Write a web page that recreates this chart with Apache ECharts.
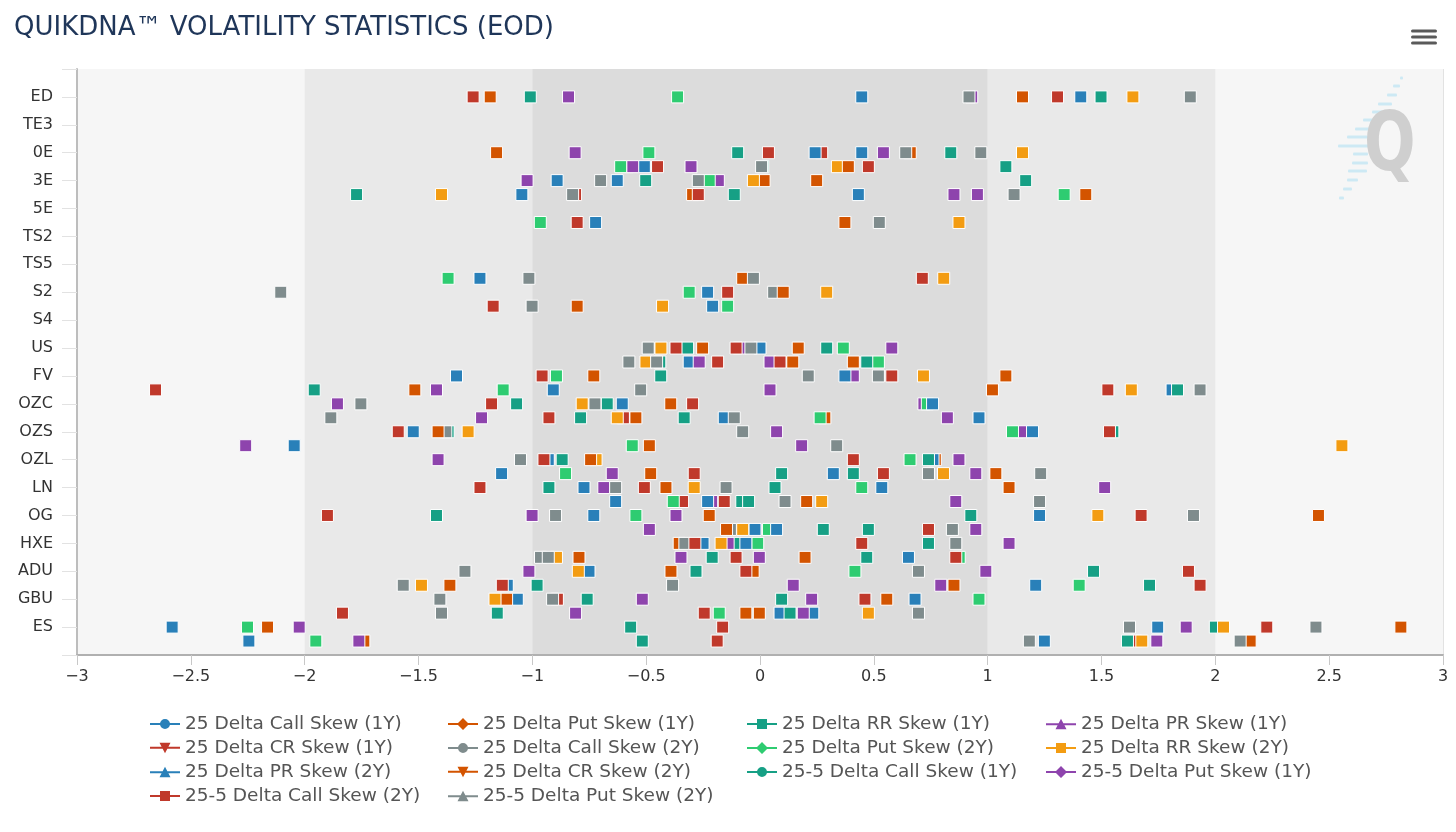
<!DOCTYPE html>
<html><head><meta charset="utf-8">
<script src="https://cdn.jsdelivr.net/npm/echarts@6/dist/echarts.min.js"></script>
<style>html,body{margin:0;padding:0;background:#fff}#c{width:1456px;height:832px}</style>
</head><body><div id="c"></div>
<script>
// ---------- data ----------
const rowLabels = ['ED','TE3','0E','3E','5E','TS2','TS5','S2','S4','US','FV','OZC','OZS','OZL','LN','OG','HXE','ADU','GBU','ES'];
const slots = [0,2,2.5,3,3.5,4.5,6.5,7,7.5,9,9.5,10,10.5,11,11.5,12,12.5,13,13.5,14,14.5,15,15.5,16,16.5,17,17.5,18,18.5,19,19.5];
const xTicks = [-3,-2.5,-2,-1.5,-1,-0.5,0,0.5,1,1.5,2,2.5,3];

const seriesNames = [
  '25 Delta Call Skew (1Y)','25 Delta Put Skew (1Y)','25 Delta RR Skew (1Y)','25 Delta PR Skew (1Y)',
  '25 Delta CR Skew (1Y)','25 Delta Call Skew (2Y)','25 Delta Put Skew (2Y)','25 Delta RR Skew (2Y)',
  '25 Delta PR Skew (2Y)','25 Delta CR Skew (2Y)','25-5 Delta Call Skew (1Y)','25-5 Delta Put Skew (1Y)',
  '25-5 Delta Call Skew (2Y)','25-5 Delta Put Skew (2Y)'
];
const callSkew1Y = [0.447,0.447,-0.508,-0.891,-1.046,-0.722,-1.230,-0.230,-0.208,0.0,-0.311,-1.333,-0.908,-0.605,-0.157,-1.523,-2.046,-0.93,-1.135,-0.773,-0.634,-0.730,-0.022,-0.25,0.652,-0.751,-1.11,-1.066,0.088,-2.582,-2.245];
const putSkew1Y = [-1.185,0.66,-0.585,0.018,-0.296,0.373,-0.076,null,-0.803,-0.252,0.144,-0.730,-1.516,-0.392,0.285,1.13,-0.486,0.77,-0.480,-0.413,0.205,-0.223,null,-0.355,-0.795,-0.03,-1.362,-1.113,-0.062,-2.163,-1.74];
const rrSkew1Y = [-1.009,-0.098,0.012,-0.502,-1.772,null,null,null,null,-0.318,-0.44,-0.436,-1.958,-1.069,-0.788,-1.37,null,-0.869,0.095,-0.927,-0.08,-1.421,0.278,-0.11,-0.210,-0.281,-0.979,-0.759,-1.154,2.0,-0.517];
const prSkew1Y = [0.93,-0.812,-0.559,-0.183,0.852,null,null,null,null,-0.09,-0.267,0.410,-1.421,0.72,-1.223,1.15,-2.259,-1.414,-0.649,-0.686,-0.212,-1.001,-0.486,-0.14,-0.347,-1.015,0.146,-0.517,-0.810,-2.024,-1.762];
const crSkew1Y = [-1.260,0.271,-0.450,null,-0.81,-0.803,0.713,-0.142,-1.172,-0.369,-0.186,-0.957,-2.655,-1.179,-0.60,-1.589,null,-0.949,-0.289,-1.230,-0.340,-1.900,0.740,0.447,-0.105,-0.062,-1.132,-0.89,-1.834,-0.164,1.65];
const callSkew2Y = [0.918,0.640,0.007,-0.700,-0.823,0.524,-1.015,0.06,-1.001,-0.491,-0.576,0.212,-0.524,-1.753,-1.885,-1.38,0.337,-1.052,0.740,-0.634,0.110,-0.898,-0.13,-0.33,-0.964,-1.296,-1.567,-1.406,-1.399,1.623,1.183];
const putSkew2Y = [-0.362,-0.488,-0.612,-0.223,1.336,-0.965,-1.370,-0.311,-0.142,0.366,0.520,-0.894,-1.128,0.735,0.264,1.109,-0.561,0.659,-0.854,0.447,-0.381,-0.545,0.037,-0.010,0.875,0.417,1.402,0.962,-0.179,-2.251,-1.951];
const rrSkew2Y = [1.638,1.153,0.340,-0.029,-1.399,0.874,0.807,0.293,-0.428,-0.435,-0.501,0.718,1.631,-0.781,-0.627,-1.282,2.556,-0.72,0.806,-0.289,0.271,1.484,-0.076,-0.171,-0.894,-0.798,-1.487,-1.164,0.476,2.036,1.677];
const prSkew2Y = [1.409,0.242,null,-0.627,0.432,null,null,null,null,null,null,0.373,1.81,0.758,0.962,1.197,null,0.76,0.322,0.535,-0.23,1.228,0.073,-0.062,null,null,1.211,0.681,0.232,1.747,1.249];
const crSkew2Y = [1.153,-1.157,0.388,0.249,1.431,null,null,0.102,null,0.168,0.410,1.080,1.021,null,-0.545,-1.414,null,-0.744,1.036,1.094,null,2.453,-0.147,null,0.198,-0.391,0.852,0.557,-0.003,2.815,2.153];
const callSkew255_1Y = [1.498,0.838,1.080,1.167,-0.113,null,null,null,null,0.293,0.469,null,1.834,-0.671,-0.333,1.55,null,0.740,0.410,0.066,-0.05,0.926,0.476,0.740,0.469,1.465,1.711,0.095,0.132,-0.568,1.614];
const putSkew255_1Y = [-0.841,0.542,-0.303,-1.023,0.955,null,null,null,null,0.579,0.044,null,0.044,-1.856,0.823,0.073,0.183,0.874,0.948,1.514,0.860,-0.369,0.948,1.094,-0.003,0.992,0.794,0.227,0.190,1.872,1.743];
const callSkew255_2Y = [1.307,0.037,0.476,null,-0.271,null,null,null,null,-0.105,0.088,0.579,1.528,-0.296,-0.927,1.535,null,0.410,0.542,-0.508,-0.157,1.674,null,-0.286,0.860,1.882,1.933,0.461,-0.245,2.226,-0.188];
const putSkew255_2Y = [1.890,0.970,null,-0.271,1.116,null,-0.029,-2.105,null,-0.040,-0.454,0.520,1.933,-0.725,-0.113,-0.076,null,null,1.233,-0.149,1.228,1.904,0.845,0.860,-0.93,0.696,-0.384,-0.911,0.696,2.442,2.109];

const seriesValues = [callSkew1Y,putSkew1Y,rrSkew1Y,prSkew1Y,crSkew1Y,callSkew2Y,putSkew2Y,rrSkew2Y,
  prSkew2Y,crSkew2Y,callSkew255_1Y,putSkew255_1Y,callSkew255_2Y,putSkew255_2Y];

// ---------- styles ----------
const FONT = '"DejaVu Sans", Verdana, sans-serif';
const colors = ['#2980b9','#d35400','#16a085','#8e44ad','#c0392b','#7f8c8d','#2ecc71','#f39c12',
  '#2980b9','#d35400','#16a085','#8e44ad','#c0392b','#7f8c8d'];
const LINE = 'M0 5h30v2H0z ';
const icons = {
  circle: 'path://' + LINE + 'M10 6a5 5 0 1 1 10 0a5 5 0 1 1 -10 0z',
  diamond: 'path://' + LINE + 'M15 0l6 6l-6 6l-6 -6z',
  square: 'path://' + LINE + 'M10 1h10v10H10z',
  triangle: 'path://' + LINE + 'M15 0.5l5.5 10.5h-11z',
  tdown: 'path://' + LINE + 'M9.5 1h11l-5.5 10.5z'
};
const iconKinds = ['circle','diamond','square','triangle','tdown','circle','diamond','square','triangle','tdown','circle','diamond','square','triangle'];

const GRID_COLOR = '#e2e2e2';

const series = [{
  type: 'scatter', name: '__bands', data: [], z: 0, silent: true,
  markArea: {
    silent: true,
    label: {show: false},
    emphasis: {disabled: true},
    data: [
      [{xAxis: -3, itemStyle: {color: '#f6f6f6'}}, {xAxis: 3}],
      [{xAxis: -2, itemStyle: {color: '#e9e9e9'}}, {xAxis: -1}],
      [{xAxis: 1, itemStyle: {color: '#e9e9e9'}}, {xAxis: 2}],
      [{xAxis: -1, itemStyle: {color: '#dcdcdc'}}, {xAxis: 1}]
    ]
  }
}];
seriesNames.forEach((name, i) => {
  const pts = [];
  seriesValues[i].forEach((v, k) => { if (v !== null) pts.push([v, slots[k]]); });
  series.push({
    type: 'scatter', name, data: pts, z: 2,
    symbol: 'rect', symbolSize: 12,
    itemStyle: {color: colors[i], borderColor: '#ffffff', borderWidth: 1, opacity: 1},
    emphasis: {disabled: true}
  });
});

function legendCol(left, idxs) {
  return {
    orient: 'vertical', left, top: 714, padding: 0, itemWidth: 30, itemHeight: 12, itemGap: 4,
    selectedMode: false,
    itemStyle: {borderWidth: 0},
    textStyle: {fontFamily: FONT, fontSize: 18.5, color: '#555555', lineHeight: 20},
    data: idxs.map(i => ({name: seriesNames[i], icon: icons[iconKinds[i]]}))
  };
}

// watermark dashes (decoration)
const dashes = [[1400,1403,78],[1393,1400,86],[1387,1397,95],[1378,1392,104],[1372,1383,112],[1363,1380,120],
  [1355,1370,129],[1347,1368,137],[1338,1370,146],[1353,1368,154],[1352,1368,163],[1348,1367,171],[1347,1358,180],[1343,1352,189],[1339,1344,198]];
const graphics = dashes.map(d => ({type: 'rect', shape: {x: d[0], y: d[2]-1.5, width: d[1]-d[0], height: 3, r: 1}, style: {fill: '#cde9f4'}, silent: true, z: 5}));
graphics.push({type: 'text', left: 1364, top: 108, style: {text: 'Q', font: 'bold 82px "DejaVu Sans"', fill: '#cfcfcf'}, scaleX: 0.74, silent: true, z: 6});
[31, 37, 43].forEach(y => graphics.push({type: 'rect', shape: {x: 1411, y: y-1.5, width: 26, height: 3, r: 1.5}, style: {fill: '#5a5a5a'}, z: 10}));

const chart = echarts.init(document.getElementById('c'), null, {renderer: 'canvas'});
chart.setOption({
  animation: false,
  backgroundColor: '#ffffff',
  title: {
    text: 'QUIKDNA™ VOLATILITY STATISTICS (EOD)', left: 9, top: 10,
    textStyle: {fontFamily: FONT, fontSize: 26, fontWeight: 'normal', color: '#1f3659'}
  },
  grid: {left: 77, right: 13, top: 69, height: 586},
  xAxis: {
    type: 'value', min: -3, max: 3, interval: 0.5, z: 1,
    axisLine: {show: true, onZero: false, lineStyle: {color: '#b0b0b0', width: 2}},
    axisTick: {show: true, length: 10, lineStyle: {color: '#c8c8c8'}},
    splitLine: {show: true, lineStyle: {color: GRID_COLOR, width: 1}},
    axisLabel: {fontFamily: FONT, fontSize: 16, color: '#333333', margin: 14,
      formatter: v => (xTicks.includes(v) ? String(v).replace('-', '\u2212') : '')}
  },
  yAxis: {
    type: 'value', inverse: true, min: -1, max: 20, interval: 1, z: 1,
    axisLine: {show: true, onZero: false, lineStyle: {color: '#bdbdbd', width: 2}},
    axisTick: {show: true, length: 15, lineStyle: {color: GRID_COLOR}},
    splitLine: {show: true, lineStyle: {color: GRID_COLOR, width: 1}},
    axisLabel: {fontFamily: FONT, fontSize: 16, color: '#333333', margin: 24,
      formatter: v => (Number.isInteger(v) && v >= 0 && v < rowLabels.length ? rowLabels[v] : '')}
  },
  legend: [
    legendCol(150, [0, 4, 8, 12]),
    legendCol(448, [1, 5, 9, 13]),
    legendCol(747, [2, 6, 10]),
    legendCol(1046, [3, 7, 11])
  ],
  graphic: graphics,
  series
});
</script>
</body></html>
